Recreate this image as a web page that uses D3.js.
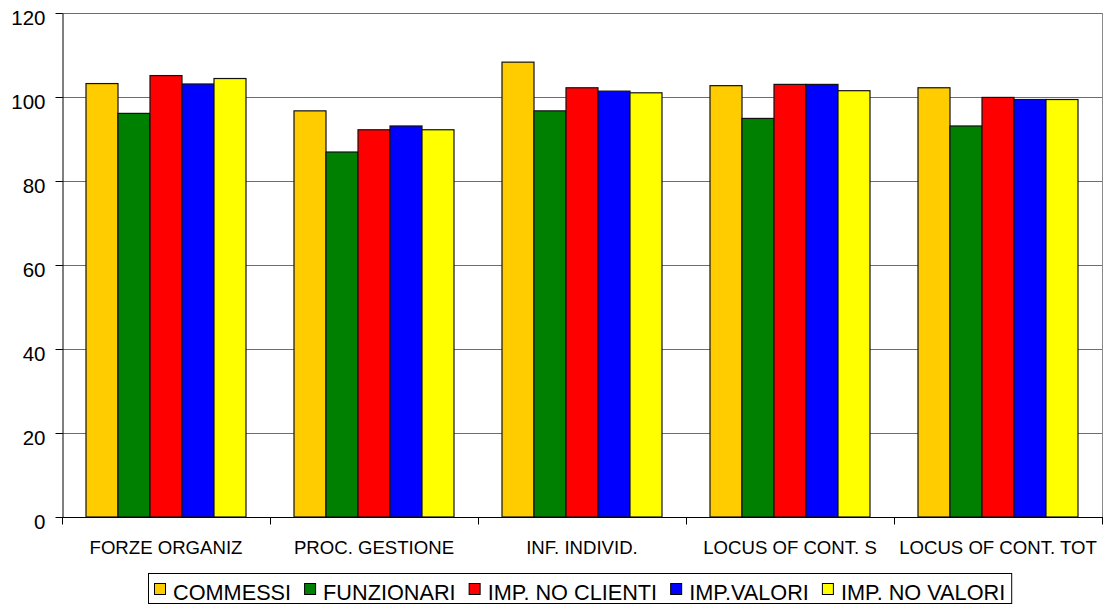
<!DOCTYPE html>
<html>
<head>
<meta charset="utf-8">
<script src="https://cdn.jsdelivr.net/npm/d3@7"></script>
<style>
  html, body { margin: 0; padding: 0; background: #fff; }
  svg { display: block; font-family: "Liberation Sans", Arial, sans-serif; }
</style>
</head>
<body>
<svg id="chart" width="1111" height="608"></svg>
<script>
// Chart data
const categories = ["FORZE ORGANIZ", "PROC. GESTIONE", "INF. INDIVID.", "LOCUS OF CONT. S", "LOCUS OF CONT. TOT"];
const seriesNames = ["COMMESSI", "FUNZIONARI", "IMP. NO CLIENTI", "IMP.VALORI", "IMP. NO VALORI"];
const commessi     = [103.2, 96.7, 108.3, 102.7, 102.2];
const funzionari   = [96.1, 86.9, 96.7, 94.9, 93.1];
const impNoClienti = [105.1, 92.2, 102.2, 103.0, 99.9];
const impValori    = [103.1, 93.1, 101.4, 103.0, 99.4];
const impNoValori  = [104.4, 92.2, 101.0, 101.5, 99.4];
const yTicks = [0, 20, 40, 60, 80, 100, 120];
const colors = ["#FFCC00", "#008000", "#FF0000", "#0000FF", "#FFFF00"];

const seriesValues = [commessi, funzionari, impNoClienti, impValori, impNoValori];
const rows = categories.map((c, i) => ({
  category: c,
  values: seriesNames.map((s, j) => ({ series: s, value: seriesValues[j][i] }))
}));

const svg = d3.select("#chart");
const plot = { left: 62, right: 1102, top: 13, bottom: 517 };

const x0 = d3.scaleBand().domain(categories).range([plot.left, plot.right]).padding(0);
const x1 = d3.scaleBand().domain(seriesNames).range([0, x0.bandwidth()]).paddingInner(0).paddingOuter(0.75);
const y = d3.scaleLinear().domain([0, 120]).range([plot.bottom, plot.top]);
const color = d3.scaleOrdinal().domain(seriesNames).range(colors);

// Horizontal gridlines
svg.append("g")
  .selectAll("line")
  .data(yTicks.filter(t => t > 0))
  .join("line")
  .attr("x1", plot.left).attr("x2", plot.right)
  .attr("y1", d => Math.round(y(d)) + 0.5).attr("y2", d => Math.round(y(d)) + 0.5)
  .attr("stroke", "#6e6e6e").attr("stroke-width", 1);

// Right border of plot area
svg.append("line")
  .attr("x1", plot.right + 0.5).attr("x2", plot.right + 0.5)
  .attr("y1", plot.top).attr("y2", plot.bottom)
  .attr("stroke", "#8a8a8a").attr("stroke-width", 1);

// Bars
svg.append("g")
  .selectAll("g")
  .data(rows)
  .join("g")
  .attr("transform", d => `translate(${x0(d.category)},0)`)
  .selectAll("rect")
  .data(d => d.values)
  .join("rect")
  .attr("x", d => x1(d.series))
  .attr("y", d => y(d.value))
  .attr("width", x1.bandwidth())
  .attr("height", d => y(0) - y(d.value))
  .attr("fill", d => color(d.series))
  .attr("stroke", "#111")
  .attr("stroke-width", 1.2);

// Y axis
const yAxis = svg.append("g")
  .attr("transform", `translate(${plot.left + 0.5},0)`)
  .call(d3.axisLeft(y).tickValues(yTicks).tickSize(7).tickPadding(10).tickSizeOuter(0));
yAxis.select(".domain").attr("stroke", "#000");
yAxis.selectAll(".tick line").attr("stroke", "#000");
yAxis.selectAll(".tick text")
  .attr("font-size", 20.5)
  .attr("dy", "0.54em")
  .attr("font-family", "Liberation Sans, Arial, sans-serif")
  .attr("fill", "#000");

// X axis with ticks at category boundaries
const xAxis = svg.append("g")
  .attr("transform", `translate(0,${plot.bottom + 0.5})`);
xAxis.append("line")
  .attr("x1", plot.left).attr("x2", plot.right + 1)
  .attr("stroke", "#000");
const bounds = categories.map(c => x0(c)).concat([plot.right]);
xAxis.selectAll(".xt")
  .data(bounds)
  .join("line")
  .attr("class", "xt")
  .attr("x1", d => d + 0.5).attr("x2", d => d + 0.5)
  .attr("y1", 0).attr("y2", 7)
  .attr("stroke", "#000");
xAxis.selectAll("text")
  .data(categories)
  .join("text")
  .attr("x", d => x0(d) + x0.bandwidth() / 2)
  .attr("y", 36.5)
  .attr("text-anchor", "middle")
  .attr("font-size", 18.6)
  .attr("fill", "#000")
  .text(d => d);

// Legend
const legend = svg.append("g");
const legendItems = legend.selectAll("g")
  .data(seriesNames)
  .join("g");
legendItems.append("rect")
  .attr("width", 11).attr("height", 11)
  .attr("y", 583)
  .attr("fill", d => color(d))
  .attr("stroke", "#000").attr("stroke-width", 1);
legendItems.append("text")
  .attr("y", 599.5)
  .attr("font-size", 21.7)
  .attr("fill", "#000")
  .text(d => d);

let cursor = 0;
const offsets = [];
legendItems.each(function () {
  const t = d3.select(this).select("text").node();
  const w = t.getComputedTextLength();
  offsets.push(cursor);
  cursor += 11 + 8 + w + 13;
});
const totalW = cursor - 13;
const padX = 6;
const boxW = totalW + padX * 2;
const boxX = Math.round((plot.left + plot.right) / 2 - boxW / 2) - 2;
legendItems.each(function (d, i) {
  const g = d3.select(this);
  g.select("rect").attr("x", boxX + padX + offsets[i] + 0.5).attr("y", 583.5);
  g.select("text").attr("x", boxX + padX + offsets[i] + 19);
});
legend.insert("rect", ":first-child")
  .attr("x", boxX + 0.5).attr("y", 573.5)
  .attr("width", boxW).attr("height", 30)
  .attr("fill", "#fff")
  .attr("stroke", "#000").attr("stroke-width", 1);
</script>
</body>
</html>
